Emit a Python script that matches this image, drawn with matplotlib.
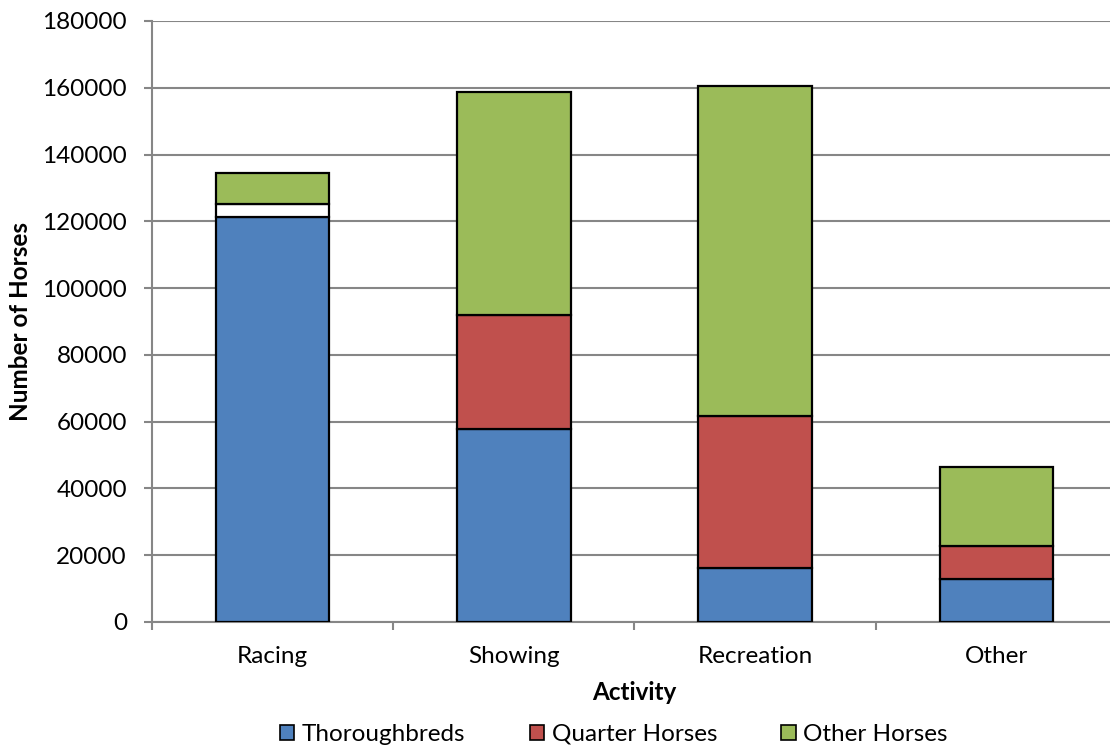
import matplotlib
matplotlib.use("Agg")
import matplotlib.pyplot as plt
from matplotlib.patches import Patch
import numpy as np

plt.rcParams['font.family'] = ['Lato', 'DejaVu Sans']

activities = ["Racing", "Showing", "Recreation", "Other"]
thoroughbreds = [121300, 57800, 16200, 12900]
quarter_horses = [3900, 34100, 45500, 9900]
other_horses = [9300, 66800, 98800, 23600]

series_names = ["Thoroughbreds", "Quarter Horses", "Other Horses"]
series_colors = ["#4F81BD", "#C0504D", "#9BBB59"]
# Racing's quarter-horse segment is drawn without fill
quarter_fill = ["#FFFFFF", "#C0504D", "#C0504D", "#C0504D"]

y_ticks = list(range(0, 180001, 20000))

fig = plt.figure(figsize=(11.10, 7.51), dpi=100)
ax = fig.add_axes([0.1369, 0.1718, 0.8694, 0.8003])

x = np.arange(len(activities))
width = 0.47
grid_color = "#868686"
fs = 17.5

bottom = np.zeros(len(activities))
layers = [
    (thoroughbreds, series_colors[0]),
    (quarter_horses, quarter_fill),
    (other_horses, series_colors[2]),
]
for values, color in layers:
    ax.bar(x, values, width, bottom=bottom, color=color,
           edgecolor="black", linewidth=1.6, zorder=3)
    bottom += np.array(values)

ax.set_xlim(-0.5, len(activities) - 0.5)
ax.set_ylim(0, 180000)
ax.set_yticks(y_ticks)
ax.set_yticklabels([str(v) for v in y_ticks], fontsize=fs)
ax.yaxis.grid(True, color=grid_color, linewidth=1.5, zorder=0)
ax.set_axisbelow(True)

ax.set_xticks(x)
ax.set_xticklabels(activities, fontsize=fs)
ax.set_xticks(np.arange(-0.5, len(activities), 1.0), minor=True)
ax.tick_params(axis="x", which="major", length=0, pad=17.5)
ax.tick_params(axis="x", which="minor", length=6, width=1.5, color=grid_color)
ax.tick_params(axis="y", length=6, width=1.5, color=grid_color, pad=12)

for side in ["top", "right"]:
    ax.spines[side].set_visible(False)
for side in ["left", "bottom"]:
    ax.spines[side].set_color(grid_color)
    ax.spines[side].set_linewidth(1.5)

ax.set_xlabel("Activity", fontsize=fs, fontweight="bold", labelpad=10)
ax.set_ylabel("Number of Horses", fontsize=fs, fontweight="bold", labelpad=7.5)

handles = [Patch(facecolor=c, edgecolor="black", linewidth=1.2) for c in series_colors]
fig.legend(handles, series_names, loc="center", bbox_to_anchor=(0.553, 0.022),
           ncol=3, frameon=False, fontsize=fs, handlelength=0.6, handleheight=0.6,
           handletextpad=0.3, columnspacing=2.65)

fig.savefig("out.png", dpi=100)
